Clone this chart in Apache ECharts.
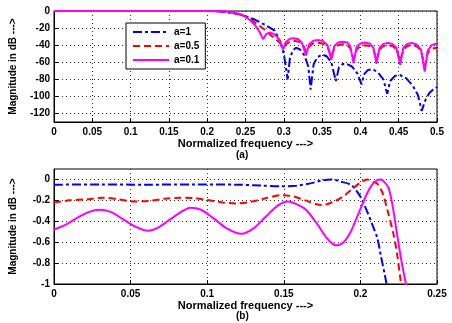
<!DOCTYPE html>
<html>
<head>
<meta charset="utf-8">
<script src="https://cdn.jsdelivr.net/npm/echarts@6/dist/echarts.min.js"></script>
<style>
html,body{margin:0;padding:0;background:#fff;}
#chart{width:452px;height:323px;}
</style>
</head>
<body>
<div id="chart"></div>
<script>
// (a) full band, [frequency, dB]
var topA1 = [[0,-0.05],[0.1,-0.05],[0.2,0],[0.21,-0.3],[0.22,-1],[0.23,-2],[0.24,-3.5],[0.25,-6],[0.262,-10],[0.275,-16],[0.288,-23],[0.295,-35],[0.3,-50],[0.305,-80],[0.308,-55],[0.312,-46],[0.316,-43],[0.321,-45],[0.327,-52],[0.332,-65],[0.335,-92],[0.339,-62],[0.344,-54],[0.35,-51],[0.356,-53],[0.362,-60],[0.368,-82],[0.372,-66],[0.377,-62],[0.382,-62],[0.389,-65],[0.396,-73],[0.4015,-86],[0.405,-74],[0.41,-69],[0.416,-68],[0.423,-72],[0.43,-80],[0.435,-97],[0.439,-82],[0.445,-76],[0.452,-75],[0.46,-79],[0.468,-87],[0.475,-98],[0.48,-117],[0.485,-104],[0.49,-96],[0.495,-92],[0.5,-89]];
var topA05 = [[0,0],[0.2,0],[0.215,-0.2],[0.226,-1],[0.235,-2.5],[0.245,-4.5],[0.255,-9],[0.265,-15],[0.275,-22],[0.284,-29],[0.292,-35],[0.3,-42],[0.304,-38],[0.309,-35.5],[0.314,-35],[0.32,-36],[0.325,-40],[0.329,-47],[0.333,-42],[0.338,-38],[0.344,-37],[0.351,-38],[0.357,-42],[0.362,-53],[0.366,-44],[0.371,-40],[0.377,-39],[0.383,-40],[0.387,-44],[0.391,-56],[0.395,-45],[0.4,-41],[0.406,-40],[0.412,-41],[0.417,-45],[0.421,-57],[0.425,-45],[0.43,-41],[0.436,-40],[0.442,-41],[0.447,-45],[0.452,-58],[0.456,-46],[0.461,-41],[0.467,-40],[0.473,-41],[0.479,-46],[0.484,-64],[0.488,-49],[0.493,-44],[0.5,-43]];
var topA01 = [[0,0],[0.2,0],[0.215,-0.2],[0.23,-1],[0.24,-3],[0.247,-5],[0.255,-10],[0.262,-16],[0.268,-24],[0.273,-33],[0.277,-27],[0.282,-25],[0.287,-27],[0.293,-32],[0.299,-45],[0.303,-36],[0.308,-32.5],[0.313,-32],[0.319,-33],[0.324,-38],[0.329,-52],[0.333,-39],[0.338,-35],[0.344,-34],[0.351,-35],[0.357,-40],[0.362,-57],[0.366,-41],[0.371,-37],[0.377,-36],[0.383,-37],[0.387,-42],[0.391,-61],[0.395,-42],[0.4,-38],[0.406,-37],[0.412,-38],[0.417,-43],[0.421,-62],[0.425,-43],[0.43,-38.5],[0.436,-37.5],[0.442,-38.5],[0.447,-43],[0.452,-63],[0.456,-43],[0.461,-38.5],[0.467,-37.5],[0.473,-39],[0.479,-45],[0.484,-71],[0.488,-46],[0.493,-40],[0.5,-38]];

// (b) passband zoom
var botA1 = [[0,-0.05],[0.03,-0.048],[0.06,-0.05],[0.09,-0.048],[0.12,-0.05],[0.135,-0.058],[0.148,-0.065],[0.158,-0.06],[0.168,-0.035],[0.175,-0.01],[0.181,0],[0.187,-0.02],[0.1937,-0.05],[0.197,-0.1],[0.2,-0.165],[0.2045,-0.31],[0.208,-0.44],[0.211,-0.56],[0.2135,-0.74],[0.2163,-0.94],[0.2175,-1.03]];
var botA05 = [[0,-0.22],[0.01,-0.2],[0.021,-0.19],[0.032,-0.175],[0.042,-0.19],[0.052,-0.21],[0.062,-0.205],[0.072,-0.185],[0.082,-0.175],[0.091,-0.178],[0.1,-0.197],[0.11,-0.22],[0.119,-0.23],[0.128,-0.215],[0.138,-0.18],[0.149,-0.15],[0.157,-0.165],[0.164,-0.2],[0.175,-0.245],[0.183,-0.21],[0.189,-0.16],[0.194,-0.1],[0.2,-0.03],[0.2045,0],[0.208,-0.02],[0.211,-0.04],[0.2145,-0.13],[0.2174,-0.28],[0.2217,-0.53],[0.224,-0.72],[0.226,-0.94],[0.2267,-1.02]];
var botA01 = [[0,-0.48],[0.008,-0.43],[0.016,-0.36],[0.023,-0.31],[0.0296,-0.29],[0.037,-0.31],[0.045,-0.38],[0.053,-0.45],[0.061,-0.49],[0.068,-0.46],[0.076,-0.38],[0.083,-0.31],[0.089,-0.27],[0.096,-0.29],[0.104,-0.37],[0.113,-0.47],[0.1224,-0.52],[0.13,-0.47],[0.138,-0.36],[0.146,-0.25],[0.1527,-0.21],[0.159,-0.24],[0.1645,-0.29],[0.172,-0.43],[0.178,-0.56],[0.184,-0.63],[0.189,-0.6],[0.1937,-0.5],[0.1975,-0.37],[0.2012,-0.24],[0.2045,-0.13],[0.2077,-0.05],[0.2105,-0.01],[0.2131,0],[0.216,-0.03],[0.2185,-0.085],[0.221,-0.25],[0.224,-0.53],[0.2268,-0.78],[0.2293,-0.97],[0.23,-1.03]];

var topYTicks = [-120,-100,-80,-60,-40,-20,0];
var botYTicks = [-1,-0.8,-0.6,-0.4,-0.2,0];
var names = ['a=1','a=0.5','a=0.1'];

var font = '"Liberation Sans", Arial, sans-serif';
var txt = {color:'#000', fontFamily:font, fontWeight:'bold', fontSize:10};

function xAx(idx, max, label){
	return {
		type:'value', gridIndex:idx, min:0, max:max, interval:0.05,
		name:label, nameLocation:'middle', nameGap:16,
		nameTextStyle:{color:'#000', fontFamily:font, fontWeight:'bold', fontSize:11},
		axisLine:{show:true, onZero:false, lineStyle:{color:'#000'}},
		axisTick:{inside:true, length:4, lineStyle:{color:'#000'}},
		axisLabel:Object.assign({margin:5}, txt),
		splitLine:{show:true, lineStyle:{color:'#333', type:[1,3], width:1}}
	};
}
function yAx(idx, min, max, ticks){
	return {
		type:'value', gridIndex:idx, min:min, max:max,
		name:'Magnitude in dB --->', nameLocation:'middle', nameGap:36, nameRotate:90,
		nameTextStyle:{color:'#000', fontFamily:font, fontWeight:'bold', fontSize:10},
		axisLine:{show:true, lineStyle:{color:'#000'}},
		axisTick:{inside:true, length:4, customValues:ticks, lineStyle:{color:'#000'}},
		axisLabel:Object.assign({margin:4, customValues:ticks}, txt),
		splitLine:{show:true, lineStyle:{color:'#333', type:[1,3], width:1}}
	};
}
function ser(name, idx, data, color, type, smooth){
	return {
		name:name, type:'line', xAxisIndex:idx, yAxisIndex:idx, data:data,
		showSymbol:false, symbol:'none', smooth:smooth, clip:true,
		lineStyle:{color:color, width:2, type:type}, itemStyle:{color:color}
	};
}

var myChart = echarts.init(document.getElementById('chart'), null, {renderer:'canvas'});
var option = {
	backgroundColor:'#fff',
	animation:false,
	grid:[
		{left:51, right:15, top:11, height:111, show:true, borderColor:'#000', borderWidth:1},
		{left:51, right:15, top:169, height:115, show:true, borderColor:'#000', borderWidth:1}
	],
	xAxis:[xAx(0, 0.5, 'Normalized frequency --->'), xAx(1, 0.25, 'Normalized frequency --->')],
	yAxis:[yAx(0, -130, 0, topYTicks), yAx(1, -1, 0.1, botYTicks)],
	legend:{
		data:names, orient:'vertical', left:126, top:23,
		backgroundColor:'#fff', borderColor:'#000', borderWidth:1,
		padding:[4,6,4,6], itemGap:4, itemWidth:36, itemHeight:10,
		itemStyle:{opacity:0},
		textStyle:txt
	},
	graphic:[
		{type:'text', left:236, top:150, style:{text:'(a)', fill:'#000', font:'bold 10px ' + font}},
		{type:'text', left:236, top:311, style:{text:'(b)', fill:'#000', font:'bold 10px ' + font}}
	],
	series:[
		ser(names[0], 0, topA1, '#0000ff', [9,3,3,3], false),
		ser(names[1], 0, topA05, '#ff0000', [7,4], false),
		ser(names[2], 0, topA01, '#ff00ff', 'solid', false),
		ser(names[0], 1, botA1, '#0000ff', [9,3,3,3], 0.3),
		ser(names[1], 1, botA05, '#ff0000', [7,4], 0.3),
		ser(names[2], 1, botA01, '#ff00ff', 'solid', 0.3)
	]
};
myChart.setOption(option);
</script>
</body>
</html>
